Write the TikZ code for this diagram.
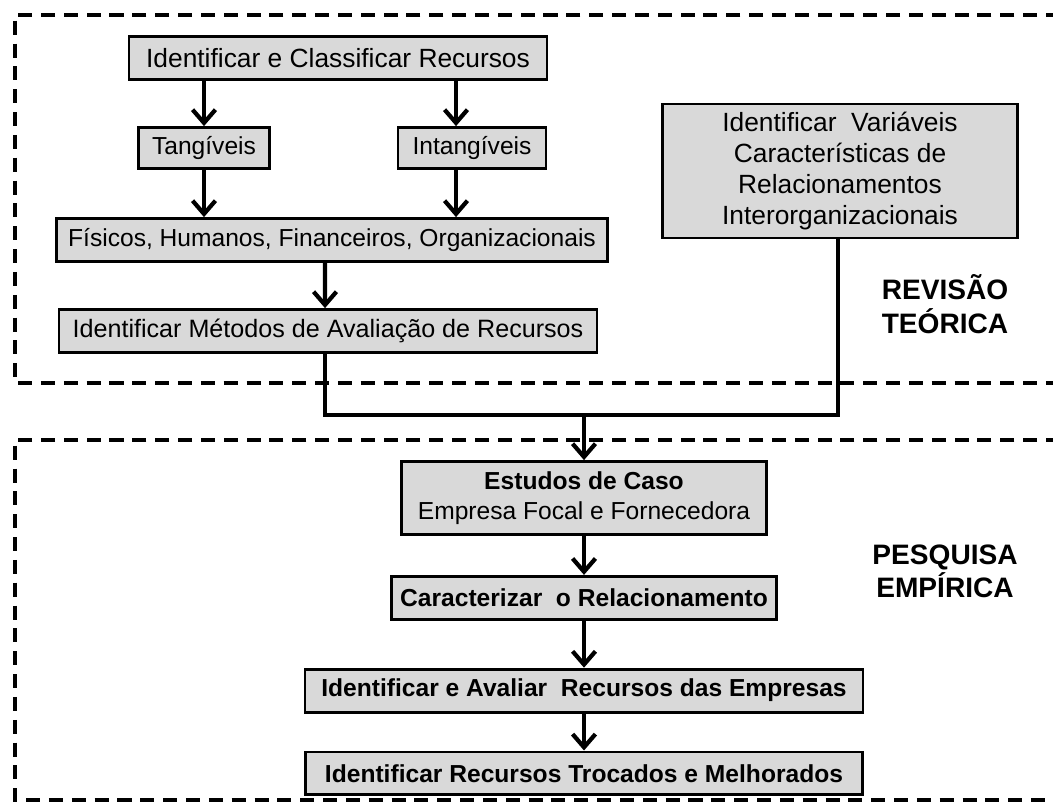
\documentclass[tikz,border=0pt]{standalone}
\usepackage{fontspec}
\setmainfont{Liberation Sans}
\usepackage{xcolor}
\usetikzlibrary{arrows.meta, positioning}
\definecolor{boxgray}{HTML}{D9D9D9}

\begin{document}
\begin{tikzpicture}[
    x=0.02cm, y=-0.02cm,
    node distance=0.8cm,
    stage/.style={draw, line width=1.6pt, fill=boxgray, minimum height=0.86cm, inner sep=2pt, font=\fontsize{14}{17}\selectfont, align=center},
    bigstage/.style={stage, font=\fontsize{15}{17.6}\selectfont},
    boldstage/.style={stage, font=\fontsize{14}{17}\selectfont\bfseries},
    zonelabel/.style={font=\fontsize{16}{19}\selectfont\bfseries, align=center},
    zone/.style={line width=2.8pt, dash pattern=on 8pt off 5pt},
    arr/.style={-{Straight Barb[length=7.5pt, width=13pt]}, line width=2.4pt},
    conn/.style={line width=2.4pt}
]
\useasboundingbox (0,0) rectangle (1053,802);

% Zones
\draw[zone] (1060,15) -- (15,15) -- (15,383) -- (1060,383);
\draw[zone] (1060,440) -- (15,440) -- (15,800) -- (1060,800);
\node[zonelabel] (revisao) at (945,304) {REVISÃO\\TEÓRICA};
\node[zonelabel] (pesquisa) at (945,571) {PESQUISA\\EMPÍRICA};

% Theoretical review
\node[bigstage, minimum width=8.36cm] (classif) at (338,58) {Identificar e Classificar Recursos};
\node[stage, minimum width=2.62cm, minimum height=0.82cm] (tang) at (204,148) {Tangíveis};
\node[stage, minimum width=2.96cm, minimum height=0.82cm] (intang) at (472,148) {Intangíveis};
\node[stage, minimum width=11.02cm] (fisicos) at (332,240) {Físicos, Humanos, Financeiros, Organizacionais};
\node[stage, minimum width=10.76cm, font=\fontsize{14.3}{17}\selectfont] (metodos) at (328,331) {Identificar Métodos de Avaliação de Recursos};
\node[bigstage, minimum width=7.1cm, minimum height=2.68cm] (variaveis) at (840,171) {Identificar~ Variáveis\\Características de\\Relacionamentos\\Interorganizacionais};

% Empirical research
\coordinate (join) at (584,415);
\node[boldstage, minimum width=7.3cm, minimum height=1.46cm] (estudos) at (584,498) {Estudos de Caso\\\mdseries Empresa Focal e Fornecedora};
\node[boldstage, minimum width=7.7cm, below=0.78cm of estudos] (caract) {Caracterizar~ o Relacionamento};
\node[boldstage, minimum width=11.16cm, below=0.94cm of caract] (avaliar) {Identificar e Avaliar~ Recursos das Empresas};
\node[boldstage, minimum width=11.14cm, below=0.74cm of avaliar] (trocados) {Identificar Recursos Trocados e Melhorados};

% Arrows
\draw[arr] (tang |- classif.south) -- (tang.north);
\draw[arr] ([xshift=-0.32cm]intang.north |- classif.south) -- ([xshift=-0.32cm]intang.north);
\draw[arr] (tang.south) -- (tang |- fisicos.north);
\draw[arr] ([xshift=-0.32cm]intang.south) -- ([xshift=-0.32cm]intang.south |- fisicos.north);
\draw[arr] ([xshift=-0.14cm]fisicos.south) -- ([xshift=-0.06cm]metodos.north);
\draw[conn] ([xshift=-0.06cm]metodos.south) -- ([xshift=-0.06cm]metodos.south |- join) -- ([xshift=-0.04cm]variaveis.south |- join) -- ([xshift=-0.04cm]variaveis.south);
\draw[arr] (join) -- (estudos.north);
\draw[arr] (estudos) -- (caract);
\draw[arr] (caract) -- (avaliar);
\draw[arr] (avaliar) -- (trocados);

\end{tikzpicture}
\end{document}
